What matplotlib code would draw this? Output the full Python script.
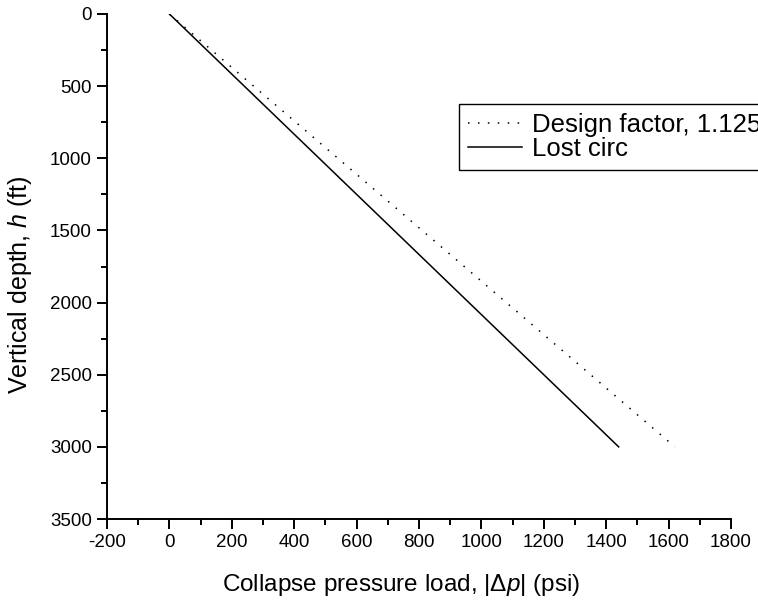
import numpy as np
import matplotlib.pyplot as plt
from matplotlib.ticker import MultipleLocator

plt.rcParams['font.family'] = ['Liberation Sans', 'DejaVu Sans']
plt.rcParams['mathtext.fontset'] = 'custom'
plt.rcParams['mathtext.it'] = 'Liberation Sans:italic'
plt.rcParams['mathtext.rm'] = 'Liberation Sans'
plt.rcParams['axes.unicode_minus'] = False

# data
depth = [0, 3000]
lost_circ = [0, 1440]
design_factor = [0, 1620]

fig = plt.figure(figsize=(7.58, 6.04), dpi=100)
ax = fig.add_axes([107 / 758, 85 / 604, 624 / 758, 505 / 604])

ax.plot(design_factor, depth, color='black', lw=1.1, linestyle=(0, (1, 5.5)),
        label='Design factor, 1.125')
ax.plot(lost_circ, depth, color='black', lw=1.1, label='Lost circ')

ax.set_xlim(-200, 1800)
ax.set_ylim(3500, 0)
ax.xaxis.set_major_locator(MultipleLocator(200))
ax.xaxis.set_minor_locator(MultipleLocator(100))
ax.yaxis.set_major_locator(MultipleLocator(500))
ax.yaxis.set_minor_locator(MultipleLocator(250))

for s in ['top', 'right']:
    ax.spines[s].set_visible(False)
for s in ['left', 'bottom']:
    ax.spines[s].set_linewidth(1.4)

ax.tick_params(which='major', direction='out', length=7, width=1.4, labelsize=13.5, pad=4)
ax.tick_params(which='minor', direction='out', length=4.5, width=1.4)

ax.set_xlabel(r'Collapse pressure load, |$\Delta p$| (psi)', fontsize=17.5)
ax.set_ylabel(r'Vertical depth, $h$ (ft)', fontsize=18)
ax.xaxis.set_label_coords(0.471, -0.105)
ax.yaxis.set_label_coords(-0.117, 0.465)

leg = fig.legend(loc='upper left', bbox_to_anchor=(459 / 758, 1 - 104 / 604),
                 bbox_transform=fig.transFigure, borderaxespad=0, fontsize=18.5,
                 fancybox=False, edgecolor='black', framealpha=1,
                 handlelength=2.1, handletextpad=0.4, labelspacing=0.0,
                 borderpad=0.35)
leg.get_frame().set_linewidth(1.0)

fig.savefig('out.png', dpi=100)
